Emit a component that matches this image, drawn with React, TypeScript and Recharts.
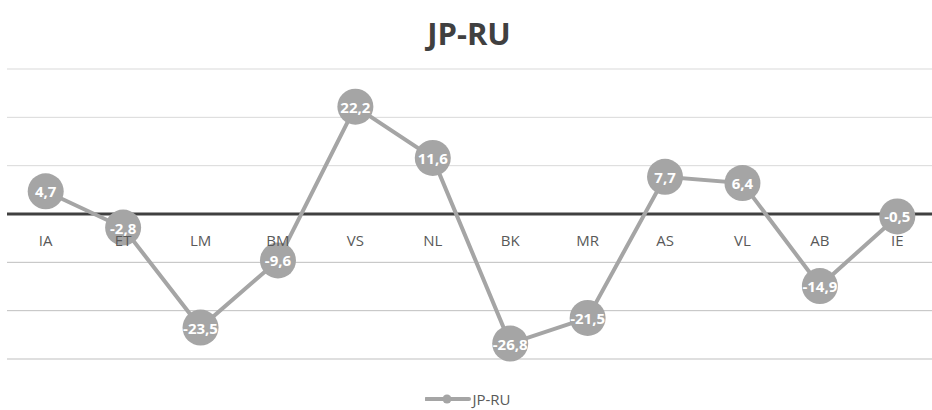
import React from "react";
import { LineChart, Line, XAxis, YAxis, ReferenceLine, LabelList } from "recharts";

const categories = ["IA", "ET", "LM", "BM", "VS", "NL", "BK", "MR", "AS", "VL", "AB", "IE"];
const values = [4.7, -2.8, -23.5, -9.6, 22.2, 11.6, -26.8, -21.5, 7.7, 6.4, -14.9, -0.5];
const gridTicks = [30, 20, 10, -10, -20, -30];
const seriesName = "JP-RU";

const data = categories.map((name, i) => ({ name, value: values[i] }));

const FONT = "'Open Sans', 'DejaVu Sans', sans-serif";

const ValueLabel = (props: any) => {
  const { x, y, value } = props;
  if (x == null || y == null) return null;
  return (
    <text
      x={x}
      y={y}
      textAnchor="middle"
      dominantBaseline="central"
      fill="#ffffff"
      fontFamily={FONT}
      fontWeight={700}
      fontSize={15}
    >
      {String(value).replace(".", ",")}
    </text>
  );
};

const CatLabel = (props: any) => {
  const { x, y, value } = props;
  if (x == null || y == null) return null;
  return (
    <text
      x={x}
      y={y + 26}
      textAnchor="middle"
      dominantBaseline="central"
      fill="#595959"
      fontFamily={FONT}
      fontSize={15}
    >
      {value}
    </text>
  );
};

export default function App() {
  return (
    <div style={{ position: "fixed", left: 0, top: 0, width: 932, height: 410, overflow: "hidden", background: "#fff" }}>
      <div
        style={{
          position: "absolute",
          top: 12,
          left: 0,
          width: 938,
          textAlign: "center",
          fontFamily: FONT,
          fontWeight: 700,
          fontSize: 31,
          color: "#404040",
          lineHeight: "42px",
        }}
      >
        {seriesName}
      </div>
      <LineChart
        width={936}
        height={410}
        data={data}
        margin={{ top: 69, right: 0, bottom: 51, left: 7 }}
      >
        <XAxis dataKey="name" hide height={0} scale="band" />
        <YAxis hide domain={[-30, 30]} ticks={[-30, -20, -10, 0, 10, 20, 30]} width={0} />
        {gridTicks.map((t) => (
          <ReferenceLine key={t} y={t} stroke={t > 0 ? "#d9d9d9" : "#bfbfbf"} strokeWidth={1} />
        ))}
        <ReferenceLine y={0} stroke="#404040" strokeWidth={3} />
        <Line
          dataKey={() => 0}
          stroke="none"
          dot={false}
          activeDot={false}
          legendType="none"
          isAnimationActive={false}
        >
          <LabelList dataKey="name" content={<CatLabel />} />
        </Line>
        <Line
          dataKey="value"
          name={seriesName}
          stroke="#a5a5a5"
          strokeWidth={4}
          dot={{ r: 18, fill: "#a5a5a5", stroke: "none" }}
          activeDot={false}
          isAnimationActive={false}
        >
          <LabelList dataKey="value" content={<ValueLabel />} />
        </Line>
      </LineChart>
      <div
        style={{
          position: "absolute",
          top: 388,
          left: 0,
          width: 932,
          display: "flex",
          justifyContent: "center",
          alignItems: "center",
          fontFamily: FONT,
          fontSize: 15,
          color: "#595959",
          height: 22,
        }}
      >
        <svg width={46} height={12} style={{ marginLeft: 4 }}>
          <line x1={1} y1={6} x2={44} y2={6} stroke="#a5a5a5" strokeWidth={4} strokeLinecap="round" />
          <circle cx={22} cy={6} r={4.5} fill="#a5a5a5" />
        </svg>
        <span style={{ marginLeft: 1 }}>{seriesName}</span>
      </div>
    </div>
  );
}
